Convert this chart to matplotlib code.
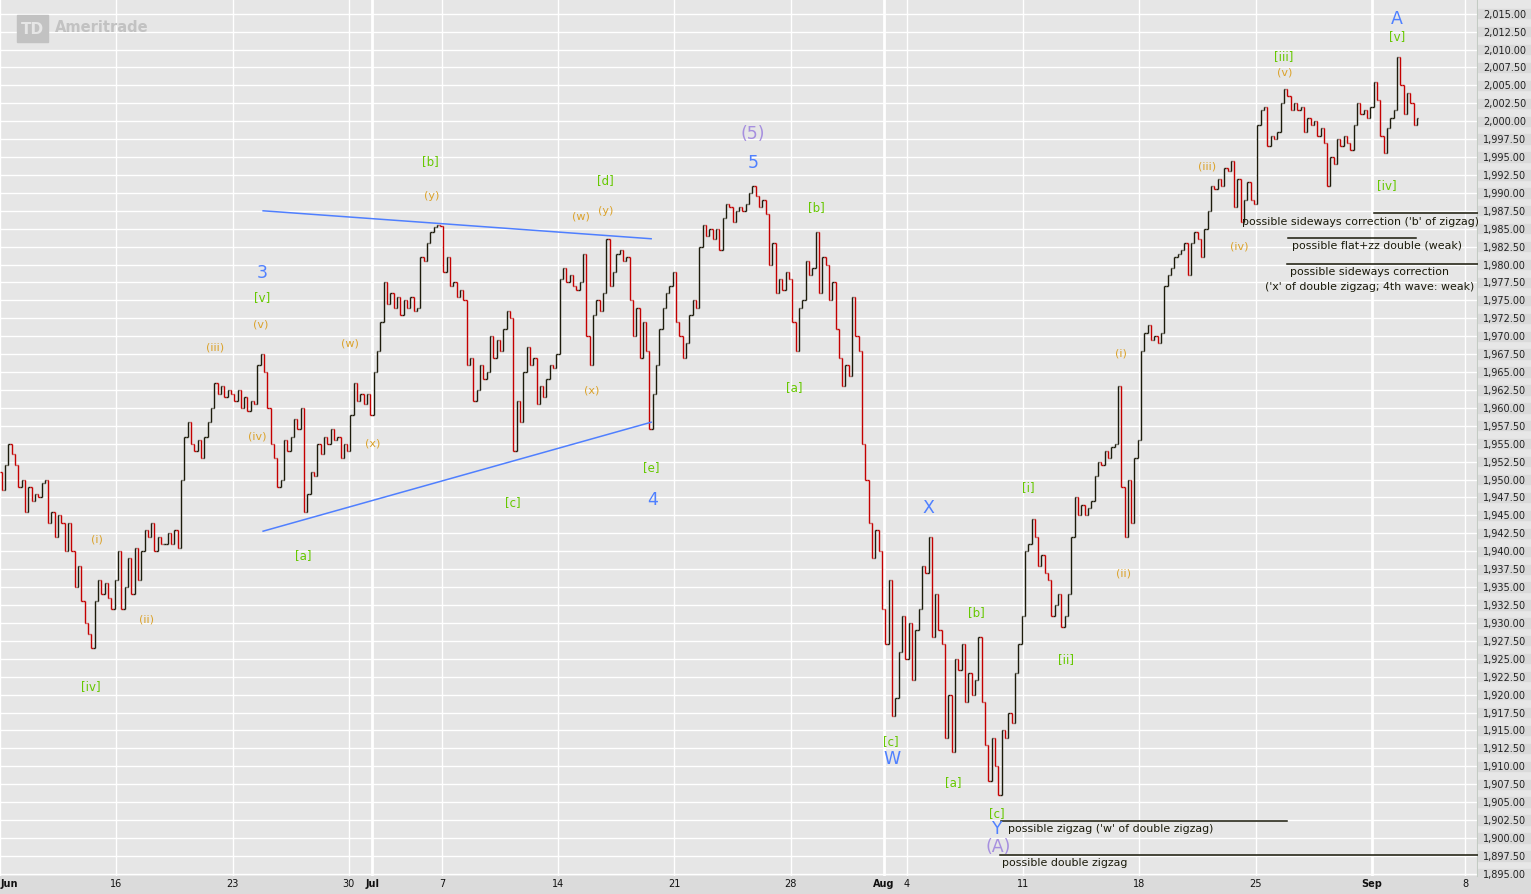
import matplotlib
matplotlib.use("Agg")
import matplotlib.pyplot as plt
from matplotlib.collections import LineCollection
from matplotlib.patches import Rectangle

# hourly closes, 7 bars per trading day (Jun 9 .. Sep 3)
first_open = 1951.0
hourly_closes = [
    1948.5, 1952, 1955, 1953.5, 1952, 1949, 1950,        # Jun 9
    1945.5, 1949, 1947, 1948, 1947.5, 1949.5, 1950,      # Jun 10
    1944, 1945.5, 1942, 1945, 1944, 1940, 1944,          # Jun 11
    1940, 1935, 1938, 1933, 1930, 1928.5, 1926.5,        # Jun 12
    1933, 1936, 1934, 1935.5, 1933.5, 1932, 1936,        # Jun 13
    1940, 1932, 1935, 1939, 1934, 1940.5, 1936,          # Jun 16
    1940, 1943, 1942, 1944, 1940, 1942, 1941,            # Jun 17
    1941, 1942.5, 1941, 1943, 1940.5, 1950, 1956,        # Jun 18
    1958, 1955, 1954, 1955.5, 1953, 1956, 1958,          # Jun 19
    1960, 1963.5, 1962, 1963, 1961.5, 1962.5, 1962,      # Jun 20
    1961, 1962.5, 1960, 1961.5, 1959.5, 1961, 1960.5,    # Jun 23
    1966, 1967.5, 1965, 1960, 1955, 1953, 1949,          # Jun 24
    1950, 1955.5, 1954, 1956, 1958.5, 1957, 1960,        # Jun 25
    1945.5, 1948, 1951, 1950.5, 1955, 1953.5, 1956,      # Jun 26
    1955, 1957, 1955.5, 1956, 1953, 1955, 1954,          # Jun 27
    1959, 1963.5, 1961, 1962, 1960.5, 1962, 1959,        # Jun 30
    1965, 1968, 1972, 1977.5, 1974.5, 1976, 1974,        # Jul 1
    1975.5, 1973, 1975, 1974, 1975.5, 1973.5, 1974,      # Jul 2
    1981, 1980.5, 1983, 1984.5, 1985.3, 1985.5, 1985.4,  # Jul 3
    1979, 1981, 1977, 1977.5, 1975.5, 1976.5, 1975,      # Jul 7
    1966, 1967, 1961, 1962.5, 1966, 1964, 1965,          # Jul 8
    1970, 1967, 1969.5, 1968, 1971, 1973.5, 1972.5,      # Jul 9
    1954, 1961, 1958, 1965, 1968.5, 1966, 1967,          # Jul 10
    1960.5, 1963, 1961.5, 1964, 1966, 1965.5, 1967.5,    # Jul 11
    1978, 1979.5, 1977.5, 1978.5, 1977, 1976.5, 1977.5,  # Jul 14
    1981.5, 1970, 1966, 1973, 1975, 1973.5, 1976,        # Jul 15
    1983.5, 1977, 1979, 1981.5, 1982, 1980.5, 1981,      # Jul 16
    1975, 1970, 1974, 1967, 1972, 1968, 1957,            # Jul 17
    1962, 1966, 1971, 1974, 1976, 1977, 1979,            # Jul 18
    1972, 1970, 1967, 1969, 1973, 1975, 1974,            # Jul 21
    1982.5, 1985.5, 1984, 1985, 1983.5, 1985, 1982,      # Jul 22
    1986.5, 1988.5, 1988, 1986, 1987.5, 1988, 1987.5,    # Jul 23
    1988.5, 1990, 1991, 1989.5, 1988, 1989, 1987,        # Jul 24
    1980, 1983, 1976, 1978, 1976.5, 1979, 1978,          # Jul 25
    1972, 1968, 1974, 1975, 1980.5, 1978.5, 1979.5,      # Jul 28
    1984.5, 1976, 1981, 1980, 1975, 1977.5, 1971,        # Jul 29
    1967, 1963, 1966, 1964.5, 1975.5, 1970, 1968,        # Jul 30
    1955, 1950, 1944, 1939, 1943, 1940, 1932,            # Jul 31
    1927, 1936, 1917, 1919.5, 1926, 1931, 1925,          # Aug 1
    1930, 1922, 1929, 1932, 1938, 1937, 1942,            # Aug 4
    1928, 1934, 1929, 1927, 1914, 1920, 1912,            # Aug 5
    1925, 1923.5, 1927, 1919, 1923, 1920, 1922,          # Aug 6
    1928, 1919, 1913, 1908, 1914, 1910, 1906,            # Aug 7
    1915, 1914, 1917.5, 1916, 1923, 1927, 1931,          # Aug 8
    1940, 1941, 1944.5, 1942, 1938, 1939.5, 1937,        # Aug 11
    1936, 1931, 1932.5, 1934, 1929.5, 1931, 1934,        # Aug 12
    1942, 1947.5, 1945, 1946.5, 1945, 1946, 1947,        # Aug 13
    1950.5, 1952.5, 1952, 1954, 1953, 1954.5, 1955,      # Aug 14
    1963, 1949, 1942, 1950, 1944, 1953, 1955.5,          # Aug 15
    1968, 1970.5, 1971.5, 1969.5, 1970, 1969, 1970.5,    # Aug 18
    1977, 1978.5, 1979.5, 1981, 1981.5, 1982, 1983,      # Aug 19
    1978.5, 1983, 1984.5, 1983.5, 1981, 1985, 1987.5,    # Aug 20
    1991, 1990.5, 1992, 1991, 1993.5, 1993, 1994.5,      # Aug 21
    1988, 1992, 1986, 1989, 1991.5, 1989, 1988.5,        # Aug 22
    1999.5, 2001.5, 2002, 1996.5, 1998, 1997.5, 1998.5,  # Aug 25
    2002.5, 2004.5, 2003.5, 2001.5, 2002.5, 2001.5, 2002,  # Aug 26
    1998.5, 2000.5, 1999.5, 2000, 1998, 1999, 1997,      # Aug 27
    1991, 1995, 1994, 1997.5, 1996.5, 1998, 1997,        # Aug 28
    1996, 1999.5, 2002.5, 2001, 2001.5, 2000.5, 2002,    # Aug 29
    2005.5, 2003, 1998, 1995.5, 1999, 2000.5, 2001.5,    # Sep 2
    2009, 2005, 2001, 2004, 2002.5, 1999.5, 2000.5,      # Sep 3
]
bars_per_day = 7

# date axis: trading-day index of each labelled gridline
tick_days = [0, 5, 10, 15, 16, 19, 24, 29, 34, 38, 39, 44, 49, 54, 59, 63]
tick_text = ["Jun", "16", "23", "30", "Jul", "7", "14", "21", "28",
             "Aug", "4", "11", "18", "25", "Sep", "8"]
month_days = [16, 38, 59]

# elliott wave labels: (text, bar index, price, kind)
wave_labels = [
    ("(i)", 28.7, 1941.8, "o"), ("(ii)", 43.5, 1930.6, "o"), ("[iv]", 26.9, 1921.3, "g"),
    ("(iii)", 64.2, 1968.6, "o"), ("(iv)", 76.9, 1956.2, "o"), ("(v)", 78.1, 1971.8, "o"),
    ("[v]", 78.4, 1975.5, "g"), ("3", 78.4, 1979.0, "b"), ("[a]", 90.7, 1939.5, "g"),
    ("(w)", 104.9, 1969.1, "o"), ("(x)", 111.8, 1955.2, "o"), ("[b]", 128.9, 1994.5, "g"),
    ("(y)", 129.5, 1989.7, "o"), ("[c]", 153.9, 1946.9, "g"), ("(w)", 174.4, 1986.8, "o"),
    ("(y)", 181.9, 1987.6, "o"), ("[d]", 181.6, 1991.8, "g"), ("(x)", 177.7, 1962.5, "o"),
    ("[e]", 195.5, 1951.8, "g"), ("4", 196.1, 1947.3, "b"), ("(5)", 226.2, 1998.4, "p"),
    ("5", 226.2, 1994.3, "b"), ("[b]", 245.1, 1988.1, "g"), ("[a]", 238.5, 1963.0, "g"),
    ("X", 278.9, 1946.2, "b"), ("[c]", 267.7, 1913.6, "g"), ("W", 268.0, 1911.1, "b"),
    ("[b]", 293.3, 1931.6, "g"), ("[a]", 286.4, 1907.9, "g"), ("[c]", 299.6, 1903.6, "g"),
    ("Y", 299.6, 1901.4, "b"), ("(A)", 299.9, 1898.9, "p"), ("[i]", 309.0, 1949.0, "g"),
    ("[ii]", 320.4, 1925.0, "g"), ("(i)", 337.0, 1967.7, "o"), ("(ii)", 337.6, 1937.1, "o"),
    ("(iii)", 362.8, 1993.8, "o"), ("(iv)", 372.5, 1982.7, "o"), ("[iii]", 386.0, 2009.1, "g"),
    ("(v)", 386.3, 2006.9, "o"), ("A", 420.0, 2014.4, "b"), ("[v]", 420.0, 2011.9, "g"),
    ("[iv]", 417.0, 1991.2, "g"),
]

# triangle trendlines (bar index, price)
upper_line = [(78.7, 1987.5), (195.5, 1983.6)]
lower_line = [(78.7, 1942.8), (195.5, 1958.0)]

# scenario markers: (x0, x1, price)
scenario_lines = [(413.1, 444.5, 1987.2), (387.2, 425.8, 1983.7), (386.9, 444.5, 1980.1),
                  (300.8, 386.9, 1902.4), (300.5, 444.5, 1897.6)]
scenario_text = [
    ("possible sideways correction ('b' of zigzag)", 373.4, 1986.1, "left"),
    ("possible flat+zz double (weak)", 388.4, 1982.7, "left"),
    ("possible sideways correction", 411.8, 1979.1, "center"),
    ("('x' of double zigzag; 4th wave: weak)", 411.8, 1977.0, "center"),
    ("possible zigzag ('w' of double zigzag)", 302.9, 1901.4, "left"),
    ("possible double zigzag", 301.1, 1896.6, "left"),
]

colors = {"g": "#66c800", "o": "#dba22a", "b": "#4f80ff", "p": "#a68fdf"}
sizes = {"g": 8.5, "o": 8, "b": 12.5, "p": 12.5}

W, H = 1531, 895
fig = plt.figure(figsize=(W / 100, H / 100), dpi=100, facecolor="#dbdbdb")
plt.rcParams["font.family"] = ["DejaVu Sans"]

ax = fig.add_axes([0, 18 / H, 1477 / W, 877 / H])
ax.set_facecolor("#e6e6e6")
ax.set_xlim(-0.5, 444.1)
ax.set_ylim(1894.69, 2017.05)

# grid
for k in range(49):
    ax.axhline(1895 + 2.5 * k, color="white", lw=1.0, zorder=0)
for d in tick_days:
    lw = 2.0 if d in month_days else 1.0
    ax.axvline(bars_per_day * d - 0.5, color="white", lw=lw, zorder=0)

# ohlc bars
opens = [first_open] + hourly_closes[:-1]
segs, cols = [], []
for i, (o, c) in enumerate(zip(opens, hourly_closes)):
    col = "#c40000" if c < o else "#1d1b0b"
    segs += [[(i, min(o, c)), (i, max(o, c))],
             [(i - 0.4, o), (i, o)],
             [(i, c), (i + 0.4, c)]]
    cols += [col] * 3
ax.add_collection(LineCollection(segs, colors=cols, linewidths=1.0, zorder=2))

# trendlines
for ln in (upper_line, lower_line):
    ax.plot([p[0] for p in ln], [p[1] for p in ln], color="#4f7fff", lw=1.1, zorder=3)

for x0, x1, y in scenario_lines:
    ax.plot([x0, x1], [y, y], color="#1a1a0a", lw=1.1, zorder=3, clip_on=False)
for t, x, y, ha in scenario_text:
    ax.text(x, y, t, fontsize=7.9, ha=ha, va="center", color="#1a1a0a", zorder=4)

for t, x, y, k in wave_labels:
    ax.text(x, y, t, fontsize=sizes[k], color=colors[k], ha="center", va="center", zorder=4)

# date labels
for d, t in zip(tick_days, tick_text):
    bold = t.isalpha()
    x = bars_per_day * d - 0.5
    ax.text(x + (0.3 if d == 0 else 0), -7 / 877, t, transform=ax.get_xaxis_transform(),
            ha="left" if d == 0 else "center", va="center", fontsize=7,
            fontweight="bold" if bold else "normal", color="#111111")

ax.set_xticks([])
ax.yaxis.tick_right()
ax.set_yticks([1895 + 2.5 * k for k in range(49)])
ax.tick_params(axis="y", length=2, color="#999999", labelright=False)
for s in ("top", "left", "bottom"):
    ax.spines[s].set_visible(False)
ax.spines["right"].set_color("#c3cbc3")

# right price panel
axr = fig.add_axes([1478 / W, 18 / H, 53 / W, 877 / H])
axr.set_ylim(ax.get_ylim())
axr.set_xlim(0, 1)
axr.axis("off")
axr.add_patch(Rectangle((0, 1894.69), 1, 2017.05 - 1894.69, color="#e7e7e7", zorder=0))
for k in range(49):
    v = 1895 + 2.5 * k
    axr.axhspan(v - 0.65, v + 0.65, color="#dadada", zorder=1)
    axr.text(5 / 53, v, f"{v:,.2f}", fontsize=7, va="center", ha="left", color="#222222", zorder=2)

# logo
fig.patches.append(Rectangle((17 / W, 1 - 43 / H), 31 / W, 27 / H, transform=fig.transFigure,
                             color="#c2c2c2", zorder=5))
fig.text(32 / W, 1 - 30 / H, "TD", fontsize=11, fontweight="bold", color="#e6e6e6",
         ha="center", va="center", zorder=6)
fig.text(55 / W, 1 - 27 / H, "Ameritrade", fontsize=10.5, fontweight="bold", color="#c2c2c2",
         ha="left", va="center", zorder=6)

fig.savefig("out.png", dpi=100, facecolor=fig.get_facecolor())
